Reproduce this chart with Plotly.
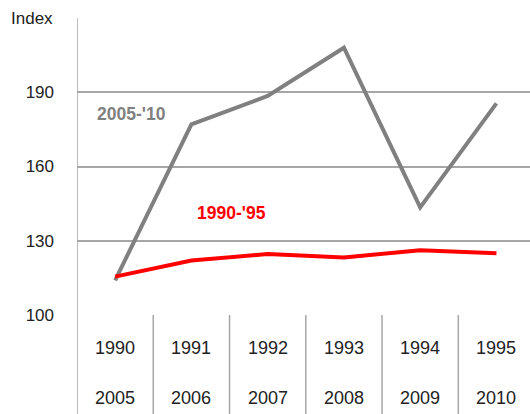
import plotly.graph_objects as go

# Category labels (two aligned periods) and index values
years_early = ["1990", "1991", "1992", "1993", "1994", "1995"]
years_late = ["2005", "2006", "2007", "2008", "2009", "2010"]
index_1990_95 = [115.5, 122, 124.6, 123.2, 126.2, 125]
index_2005_10 = [114, 177, 188.5, 208, 143.5, 185.5]
y_ticks = [100, 130, 160, 190, 220]
y_tick_text = ["100", "130", "160", "190", ""]

n = len(years_early)
xpos = [i + 0.5 for i in range(n)]

FONT = "Liberation Sans, Arial, sans-serif"
GRID = "#a6a6a6"

fig = go.Figure()
fig.add_trace(go.Scatter(x=xpos, y=index_2005_10, mode="lines",
                         line=dict(color="#808080", width=4), hoverinfo="skip"))
fig.add_trace(go.Scatter(x=xpos, y=index_1990_95, mode="lines",
                         line=dict(color="#ff0000", width=4), hoverinfo="skip"))

shapes = []
# left axis line running down through the category table
shapes.append(dict(type="line", xref="x", yref="paper", x0=0, x1=0, y0=-0.34, y1=1,
                   line=dict(color=GRID, width=1.5)))
# category separators below the plot
for i in range(1, n + 1):
    shapes.append(dict(type="line", xref="x", yref="paper", x0=i, x1=i, y0=-0.34, y1=0,
                       line=dict(color=GRID, width=1.5)))

annotations = []
for i in range(n):
    annotations.append(dict(x=xpos[i], y=-0.111, xref="x", yref="paper", text=years_early[i],
                            showarrow=False, yanchor="middle",
                            font=dict(family=FONT, size=18, color="#222")))
    annotations.append(dict(x=xpos[i], y=-0.279, xref="x", yref="paper", text=years_late[i],
                            showarrow=False, yanchor="middle",
                            font=dict(family=FONT, size=18, color="#222")))
annotations.append(dict(x=0, y=220, xref="paper", yref="y", text="Index", showarrow=False,
                        xanchor="right", yanchor="middle", xshift=-22,
                        font=dict(family=FONT, size=17, color="#222")))
annotations.append(dict(x=0.23, y=190 - (113 - 91) / 74.5 * 30, xref="x", yref="y",
                        text="<b>2005-'10</b>", showarrow=False, xanchor="left", yanchor="middle",
                        font=dict(family=FONT, size=17.5, color="#808080")))
annotations.append(dict(x=1.55, y=130 + (240 - 212) / 74.5 * 30, xref="x", yref="y",
                        text="<b>1990-'95</b>", showarrow=False, xanchor="left", yanchor="middle",
                        font=dict(family=FONT, size=17.5, color="#ff0000")))

fig.update_layout(
    width=530, height=414,
    margin=dict(l=77, r=0, t=18, b=99),
    paper_bgcolor="white", plot_bgcolor="white",
    showlegend=False,
    xaxis=dict(range=[0, 5.94], showgrid=False, zeroline=False, showticklabels=False,
               showline=False, fixedrange=True),
    yaxis=dict(range=[100, 220], tickvals=y_ticks, ticktext=y_tick_text,
               showgrid=True, gridcolor=GRID, gridwidth=1.5, zeroline=False,
               showline=False, ticks="", ticklabelstandoff=22,
               tickfont=dict(family=FONT, size=17, color="#222")),
    shapes=shapes,
    annotations=annotations,
)

fig.write_html("out.html")
